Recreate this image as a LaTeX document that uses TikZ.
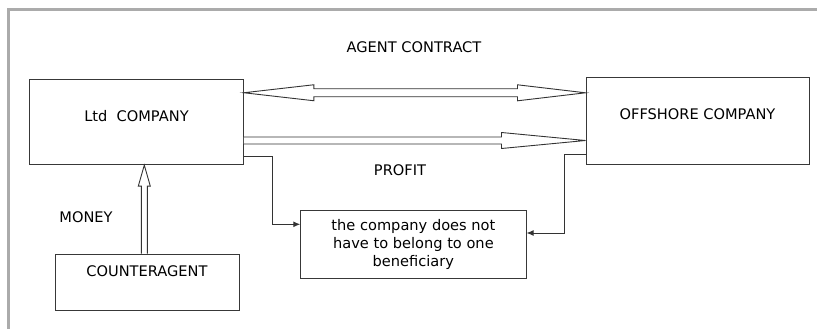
\documentclass[tikz,border=0pt]{standalone}
\usepackage{fontspec}
\setmainfont{DejaVu Sans}
\usepackage{tikz}
\usetikzlibrary{calc,arrows.meta}

\tikzset{
	box/.style={draw=black!78, line width=1pt, inner sep=0pt},
	hollow/.style={draw=black!80, line width=0.9pt, fill=white, line join=miter},
	elbow/.style={draw=black!80, line width=1pt, -{Latex[length=7pt,width=6pt]}},
	tag/.style={inner sep=0pt}
}

\begin{document}
\begin{tikzpicture}[x=1pt, y=-1pt, font=\fontsize{14.6}{18.3}\selectfont]
			%%%%% START %%%%%
			\useasboundingbox (0, 0) rectangle (817, 329);
			
			\draw[line width=2.6pt, color=black!33] (8.5, 329) -- (8.5, 9.7) -- (817, 9.7);
			
			\node[box, minimum width=213.7, minimum height=84.7, text depth=12] (ltd) at (136.5, 122.3) {Ltd\ \ COMPANY};
			\node[box, minimum width=223, minimum height=86, text depth=13.4] (off) at (697.5, 121) {OFFSHORE COMPANY};
			\node[box, minimum width=184, minimum height=56, text depth=22.6] (cnt) at (147, 282) {COUNTERAGENT};
			\node[box, minimum width=225.3, minimum height=68, align=center] (note) at (413.4, 244.5) {the company does not\\have to belong to one\\beneficiary};
			
			\node[tag] (contract) at (414, 46.7) {AGENT CONTRACT};
			\node[tag] (profit) at (400, 170) {PROFIT};
			\node[tag] (money) at (86, 216.7) {MONEY};
			
			\coordinate (c1a) at ($(ltd.north east)+(0, 13.3)$);
			\coordinate (c1b) at ($(off.north west)+(0, 15.3)$);
			\draw[hollow] (c1a) -- ($(c1a)+(70, -8)$) -- ($(c1a)+(70, -4)$) -- ($(c1b)+(-68, -4)$) -- ($(c1b)+(-68, -8)$) -- (c1b)
				-- ($(c1b)+(-68, 8)$) -- ($(c1b)+(-68, 4)$) -- ($(c1a)+(70, 4)$) -- ($(c1a)+(70, 8)$) -- cycle;
			
			\coordinate (c2a) at ($(ltd.north east)+(0, 61)$);
			\coordinate (c2b) at ($(off.north west)+(0, 63)$);
			\draw[hollow] ($(c2a)+(0, -3.5)$) -- ($(c2b)+(-84, -3.5)$) -- ($(c2b)+(-84, -8)$) -- (c2b)
				-- ($(c2b)+(-84, 8)$) -- ($(c2b)+(-84, 3.5)$) -- ($(c2a)+(0, 3.5)$);
			
			\coordinate (c3a) at ($(cnt.north)+(-2.7, 0)$);
			\coordinate (c3b) at (c3a |- ltd.south);
			\draw[hollow] ($(c3a)+(-3, 0)$) -- ($(c3b)+(-3, 21)$) -- ($(c3b)+(-6, 21)$) -- (c3b)
				-- ($(c3b)+(6, 21)$) -- ($(c3b)+(3, 21)$) -- ($(c3a)+(3, 0)$);
			
			\coordinate (k1) at ($(ltd.south east)+(29, -9)$);
			\draw[elbow] ($(ltd.south east)+(0, -9)$) -- (k1) |- ($(note.north west)+(0, 14.3)$);
			\coordinate (k2) at ($(off.south west)+(-21, -10)$);
			\draw[elbow] ($(off.south west)+(0, -10)$) -- (k2) |- ($(note.north east)+(0, 23)$);
			
			%%%%% END %%%%%
\end{tikzpicture}
\end{document}
